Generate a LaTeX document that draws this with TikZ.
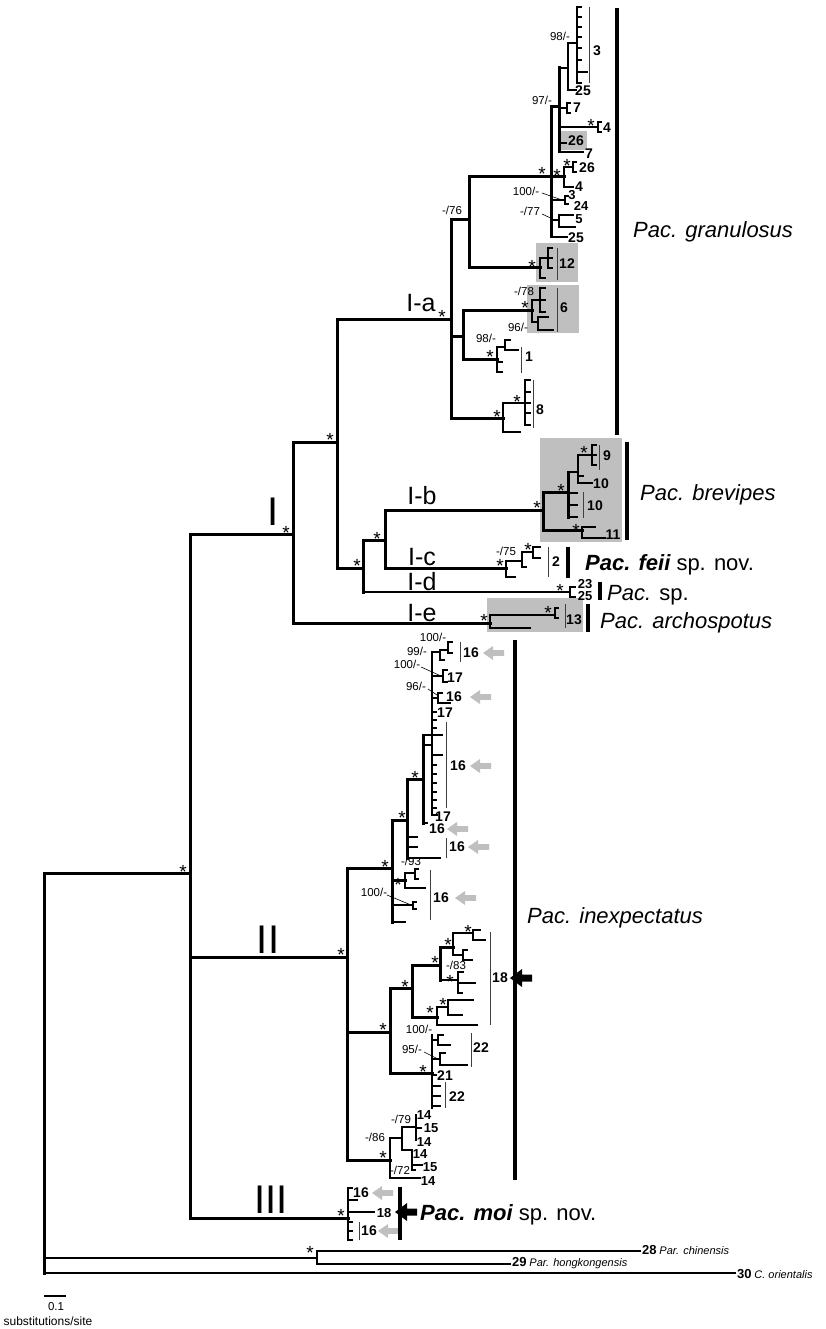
\documentclass[tikz,border=0pt]{standalone}
\usepackage{fontspec}
\setmainfont{Liberation Sans}
\definecolor{boxgray}{RGB}{191,191,191}
\newcounter{nn}
\newcommand\HL[4][]{\draw[br,#1] (#3,#2) -- (#4,#2);}
\newcommand\VL[4][]{\draw[br,#1] (#2,#3) -- (#2,#4);}
\newcommand\St[2]{\stepcounter{nn}\node[stx] (s\thenn) at (#1,#2) {*};}
\newcommand\Lb[3]{\stepcounter{nn}\node[lab] (l\thenn) at (#1,#2) {#3};}
\newcommand\Ls[3]{\stepcounter{nn}\node[lab,font=\fontsize{13}{13}\selectfont\bfseries] (m\thenn) at (#1,#2) {#3};}
\newcommand\Sv[3]{\stepcounter{nn}\node[bs] (v\thenn) at (#1,#2) {#3};}
\newcommand\Tb[3]{\draw[cbar] (#1,#2) -- (#1,#3);}
\newcommand\Sb[3]{\draw[sbar] (#1,#2) -- (#1,#3);}
\newcommand\Ar[3][boxgray]{\fill[#1] (#2,#3) -- ++(10,-7) -- ++(0,4.2) -- ++(11,0) -- ++(0,5.6) -- ++(-11,0) -- ++(0,4.2) -- cycle;}
\newcommand\BA[2]{\fill[black] (#1,#2) -- ++(12,-9) -- ++(0,5.5) -- ++(10,0) -- ++(0,7) -- ++(-10,0) -- ++(0,5.5) -- cycle;}
\newcommand\Tk[3]{\foreach \yy in {#3} {\draw[tw] (#1,\yy) -- (#2,\yy);}}
\begin{document}
\begin{tikzpicture}[x=1pt,y=-1pt,
  br/.style={line width=3pt,line cap=rect},
  tw/.style={line width=2.8pt,line cap=rect},
  th/.style={line width=2.2pt,line cap=rect},
  cbar/.style={line width=0.9pt,black!75},
  sbar/.style={line width=4.2pt},
  lead/.style={line width=0.6pt},
  lab/.style={font=\fontsize{14}{14}\selectfont\bfseries,inner sep=0pt},
  bs/.style={font=\fontsize{11.5}{12}\selectfont,inner sep=0pt},
  stx/.style={font=\fontsize{19}{19}\selectfont,inner sep=0pt,yshift=-4pt},
  cl/.style={font=\fontsize{25}{25}\selectfont,inner sep=0pt},
  big/.style={font=\fontsize{40}{40}\selectfont,inner sep=0pt},
  sp/.style={font=\fontsize{22}{22}\selectfont,inner sep=0pt,anchor=base west},
]
\path[use as bounding box] (0,0) rectangle (825,1329);
\fill[white] (0,0) rectangle (825,1329);
% shaded boxes
\fill[boxgray] (559,131) rectangle (587,150);
\fill[boxgray] (536,243) rectangle (578,282);
\fill[boxgray] (527,285) rectangle (579,333);
\fill[boxgray] (540,438) rectangle (622,542);
\fill[boxgray] (487,598) rectangle (583,632);
% ---------------- root and outgroups
\VL{44}{873}{1273}
\HL{873}{44}{190} \St{183}{868}
\HL[th]{1258}{44}{317} \St{310}{1249}
\VL[th]{317}{1251}{1264}
\HL[th]{1251}{317}{640}
\HL[th]{1264}{317}{510}
\HL[th]{1273}{44}{735}
\node[anchor=west,inner sep=0pt] (o28) at (642,1250) {{\fontsize{13}{13}\selectfont\bfseries 28} {\fontsize{11}{11}\selectfont\itshape Par. chinensis}};
\node[anchor=west,inner sep=0pt] (o29) at (512,1263) {{\fontsize{13}{13}\selectfont\bfseries 29} {\fontsize{11}{11}\selectfont\itshape Par. hongkongensis}};
\node[anchor=west,inner sep=0pt] (o30) at (737,1274) {{\fontsize{13}{13}\selectfont\bfseries 30} {\fontsize{11}{11}\selectfont\itshape C. orientalis}};
% scale bar
\draw[line width=2.2pt] (44,1296) -- (66,1296);
\node[font=\fontsize{11.5}{12}\selectfont,inner sep=0pt] (sb1) at (56,1307) {0.1};
\node[font=\fontsize{12}{12}\selectfont,inner sep=0pt] (sb2) at (48,1321) {substitutions/site};
% ---------------- ingroup backbone
\VL{190}{534}{1218}
\HL{534}{190}{293} \St{286}{529} \node[big] (cI) at (273,512) {I};
\HL{957}{190}{347} \St{341}{951} \node[big] (cII) at (268,940) {II};
\HL{1218}{190}{348} \St{341}{1212} \node[big] (cIII) at (271,1200) {III};
% ---------------- clade I
\VL{293}{442}{623}
\HL{442}{293}{337} \St{330}{436}
\HL{623}{293}{490} \node[cl] (cIe) at (422,613) {I-e}; \St{484}{617}
\VL{337}{319}{568}
\HL{319}{337}{451} \node[cl] (cIa) at (421,303) {I-a}; \St{442}{313}
\HL{568}{337}{363} \St{357}{562}
\VL{363}{540}{592}
\HL{540}{363}{385} \St{377}{535}
\HL[th]{592}{363}{570} \node[cl] (cId) at (422,582) {I-d}; \St{560}{587}
\VL{385}{510}{568}
\HL{510}{385}{543} \node[cl] (cIb) at (422,496) {I-b}; \St{537}{504}
\HL{568}{385}{506} \node[cl] (cIc) at (422,557) {I-c}; \St{500}{562}
% ---------------- I-a granulosus
\VL{451}{220}{418}
\HL{220}{451}{469}
\Sv{452}{210}{-/76}
\VL{469}{177}{268}
\HL{177}{469}{564} \St{542}{170}
\HL{268}{469}{540} \St{532}{263}
\HL{336}{451}{463}
\VL{463}{310}{359}
\HL{310}{463}{532} \St{525}{304}
\HL{359}{463}{497} \St{490}{353}
\HL{418}{451}{503} \St{497}{413}
% top group
\VL{551}{107}{237}
\HL{107}{551}{559} \Sv{542}{100}{97/-}
\VL{559}{68}{152}
\HL[tw]{68}{559}{568}
\VL[tw]{568}{43}{90}
\HL[tw]{43}{568}{577} \Sv{560}{36}{98/-}
\VL[tw]{577}{7}{83}
\Tk{577}{580.5}{7,17,27,37,48,60,83}
\HL[tw]{72}{577}{587}
\HL[tw]{90}{568}{576} \Lb{583}{91}{25}
\Tb{589}{7}{83} \Lb{597}{51}{3}
\HL[tw]{108}{559}{567} \VL[tw]{567}{103}{113} \Tk{567}{570}{103,113} \Lb{577}{108}{7}
\HL[tw]{127}{559}{598} \VL[tw]{598}{122}{132} \Tk{598}{601}{122,132} \St{591}{122} \Lb{607}{128}{4}
\HL[tw]{143}{559}{566} \Lb{576}{141}{26}
\HL[tw]{152}{559}{583} \Lb{589}{154}{7}
\VL[tw]{564}{167}{187} \St{557}{172}
\HL[tw]{167}{564}{573} \VL[tw]{573}{162}{172} \Tk{573}{576}{162,172} \St{567}{162} \Lb{587}{168}{26}
\HL[tw]{187}{564}{573} \Lb{579}{187}{4}
\HL[tw]{200}{551}{565} \VL[tw]{565}{196}{204} \Tk{565}{568}{196,204}
\Ls{572}{195}{3} \Ls{581}{206}{24}
\Sv{526}{191}{100/-} \draw[lead] (542,193) -- (562,200);
\HL[tw]{220}{551}{559} \VL[tw]{559}{215}{227} \HL[tw]{215}{559}{573} \HL[tw]{227}{559}{575}
\Ls{579}{219}{5}
\Sv{530}{211}{-/77} \draw[lead] (542,214) -- (557,221);
\HL[tw]{237}{551}{567} \Lb{576}{238}{25}
\Sb{617}{8}{435}
\node[sp] (pg) at (633,238) {\itshape Pac. granulosus};
% clade 12
\VL[tw]{540}{258}{278}
\HL[tw]{258}{540}{548} \VL[tw]{548}{248}{268} \Tk{548}{552}{248,258,268}
\HL[tw]{278}{540}{545}
\Tb{557}{248}{280} \Lb{567}{264}{12}
% clade 6
\VL[tw]{532}{300}{322}
\HL[tw]{300}{532}{540} \VL[tw]{540}{288}{312} \Tk{540}{545}{288,300,312}
\HL[tw]{322}{532}{538} \VL[tw]{538}{317}{330} \HL[tw]{317}{538}{548} \HL[tw]{330}{538}{553}
\Sv{524}{291}{-/78} \Sv{518}{327}{96/-}
\Tb{557}{288}{332} \Lb{564}{308}{6}
% clade 1
\VL[tw]{497}{347}{372}
\HL[tw]{347}{497}{505} \VL[tw]{505}{340}{350} \HL[tw]{340}{505}{510} \HL[tw]{350}{505}{518}
\Tk{497}{502}{362,372}
\Sv{486}{338}{98/-}
\Tb{521}{347}{373} \Lb{529}{357}{1}
% clade 8
\VL[tw]{503}{403}{432}
\HL[tw]{403}{503}{525} \St{517}{398}
\VL[tw]{525}{380}{425} \Tk{525}{530}{380,392,403,413,425}
\HL[tw]{432}{503}{520}
\Tb{533}{380}{428} \Lb{540}{410}{8}
% ---------------- I-b brevipes
\VL{543}{492}{530}
\HL{492}{543}{568} \St{561}{487}
\VL{568}{472}{517}
\HL[tw]{472}{568}{578}
\VL[tw]{578}{455}{483} \St{584}{449}
\HL[tw]{455}{578}{592} \VL[tw]{592}{445}{465} \Tk{592}{596}{445,455,465}
\Tb{599}{445}{470} \Lb{607}{456}{9}
\HL[tw]{483}{578}{592} \HL[tw]{476}{578}{583}
\Lb{601}{484}{10}
\Tk{568}{577}{493,505,517}
\Tb{583}{492}{518} \Lb{595}{506}{10}
\HL{530}{543}{582} \St{576}{527}
\VL[tw]{582}{527}{538} \HL[tw]{527}{582}{595} \HL[tw]{538}{582}{605}
\Lb{613}{535}{11}
\Sb{627}{442}{540}
\node[sp] (pb) at (640,500) {\itshape Pac. brevipes};
% ---------------- I-c feii
\VL[tw]{506}{561}{577}
\HL[tw]{561}{506}{522}
\VL[tw]{522}{552}{567} \St{528}{546}
\HL[tw]{552}{522}{533} \VL[tw]{533}{547}{558} \Tk{533}{540}{547,558}
\HL[tw]{567}{522}{526}
\HL[tw]{577}{506}{515}
\Sv{506}{551}{-/75}
\Tb{548}{547}{577} \Lb{556}{562}{2}
\Sb{568}{547}{578}
\node[sp] (pf) at (585,570) {{\bfseries\itshape Pac. feii} sp. nov.};
% ---------------- I-d
\VL[tw]{570}{587}{597} \Tk{570}{575}{587,597}
\Ls{585}{584}{23}
\Ls{585}{596}{25}
\Sb{600}{582}{600}
\node[sp] (ps) at (607,600) {{\itshape Pac.} sp.};
% ---------------- I-e archospotus
\VL[tw]{490}{615}{628}
\HL[tw]{615}{490}{555} \St{548}{609}
\VL[tw]{555}{608}{618} \Tk{555}{558}{608,618}
\HL[tw]{628}{490}{530}
\Tb{565}{604}{628} \Lb{574}{620}{13}
\Sb{588}{604}{632}
\node[sp] (pa) at (600,628) {\itshape Pac. archospotus};
% ---------------- clade II
\VL{347}{868}{1160}
\HL{868}{347}{392} \St{385}{863}
\VL{392}{820}{922}
\Sv{411}{861}{-/93}
\HL{820}{392}{407} \St{402}{814}
\VL{407}{779}{858}
\HL{779}{407}{423} \St{415}{774}
\VL{423}{735}{823}
\HL[tw]{735}{423}{442}
\HL[tw]{745}{423}{432}
\HL[tw]{823}{423}{427} \Lb{437}{829}{16} \Ar{447}{829}
\VL[tw]{432}{652}{815}
\Tk{432}{436}{712,720,728,765,774,783,792,800,808}
\HL[tw]{755}{432}{442}
\HL[tw]{815}{432}{437} \Lb{443}{817}{17}
\Lb{445}{713}{17}
\Tb{446}{722}{808} \Lb{458}{766}{16} \Ar{470}{766}
\HL[tw]{652}{432}{440} \VL[tw]{440}{650}{660} \HL[tw]{650}{440}{448} \VL[tw]{448}{642}{653} \Tk{448}{452}{642,653} \HL[tw]{660}{440}{444}
\Sv{433}{637}{100/-} \Sv{417}{651}{99/-}
\Tb{460}{642}{662} \Lb{471}{653}{16} \Ar{483}{653}
\HL[tw]{676}{432}{443} \VL[tw]{443}{670}{682} \Tk{443}{447}{670,682}
\Lb{455}{678}{17} \Sv{407}{664}{100/-} \draw[lead] (421,667) -- (441,676);
\HL[tw]{698}{432}{438} \VL[tw]{438}{693}{703} \HL[tw]{693}{438}{442} \HL[tw]{703}{438}{450}
\Lb{454}{697}{16} \Ar{470}{697}
\Sv{416}{686}{96/-} \draw[lead] (428,689) -- (437,695);
\Tk{407}{417}{837,847}
\HL[tw]{858}{407}{440}
\Tb{446}{838}{858} \Lb{457}{847}{16} \Ar{468}{847}
\HL{880}{392}{405} \St{398}{881}
\VL[tw]{405}{873}{888}
\HL[tw]{873}{405}{415} \VL[tw]{415}{869}{879} \Tk{415}{418}{869,879}
\HL[tw]{888}{405}{425}
\HL[tw]{905}{392}{413} \VL[tw]{413}{902}{909} \Tk{413}{416}{902,909}
\Sv{374}{892}{100/-} \draw[lead] (387,895) -- (411,905);
\HL[tw]{922}{392}{405}
\Tb{430}{870}{920} \Lb{441}{898}{16} \Ar{455}{898}
% clade 18
\HL{1032}{347}{390} \St{383}{1026}
\VL{390}{988}{1073}
\HL{988}{390}{412} \St{405}{983}
\VL{412}{965}{1017}
\HL{965}{412}{440} \St{435}{959}
\VL{440}{947}{980}
\HL{947}{440}{453} \St{448}{941}
\VL[tw]{453}{933}{955}
\HL[tw]{933}{453}{473} \St{468}{928}
\VL[tw]{473}{930}{940} \HL[tw]{930}{473}{480} \HL[tw]{940}{473}{485}
\HL[tw]{955}{453}{463} \VL[tw]{463}{950}{960} \HL[tw]{950}{463}{467} \HL[tw]{960}{463}{472}
\Sv{456}{965}{-/83}
\HL[tw]{980}{440}{458} \St{450}{978}
\VL[tw]{458}{972}{993} \HL[tw]{972}{458}{463} \HL[tw]{983}{458}{475} \HL[tw]{993}{458}{462}
\HL{1017}{412}{437} \St{430}{1009}
\VL[tw]{437}{1007}{1025}
\HL[tw]{1007}{437}{448} \St{443}{1001}
\VL[tw]{448}{1000}{1015} \HL[tw]{1000}{448}{473} \HL[tw]{1015}{448}{462}
\HL[tw]{1025}{437}{477}
\Tb{490}{932}{1025} \Lb{500}{978}{18}
\Sb{515}{640}{1180}
\BA{510}{978}
\node[sp] (pi) at (527,923) {\itshape Pac. inexpectatus};
% 21/22
\HL{1073}{390}{432} \St{423}{1068}
\VL[tw]{432}{1035}{1108}
\HL[tw]{1040}{432}{438} \VL[tw]{438}{1035}{1045} \HL[tw]{1035}{438}{443} \HL[tw]{1045}{438}{450}
\Sv{419}{1029}{100/-}
\HL[tw]{1059}{432}{440} \VL[tw]{440}{1053}{1065} \HL[tw]{1053}{440}{445} \HL[tw]{1065}{440}{467}
\Sv{412}{1049}{95/-} \draw[lead] (424,1052) -- (440,1060);
\Tb{471}{1033}{1067} \Lb{481}{1048}{22}
\HL[tw]{1075}{432}{436} \Lb{445}{1076}{21}
\Tk{432}{440}{1086,1096,1106}
\Tb{445}{1082}{1108} \Lb{457}{1097}{22}
% 14/15
\HL{1160}{347}{390} \St{383}{1154}
\VL[tw]{390}{1138}{1178}
\HL[tw]{1178}{390}{420} \Ls{428}{1181}{14}
\HL[tw]{1138}{390}{402}
\VL[tw]{402}{1127}{1150}
\HL[tw]{1127}{402}{416}
\VL[tw]{416}{1115}{1140}
\HL[tw]{1128}{416}{421}
\Ls{424}{1115}{14} \Ls{431}{1128.5}{15} \Ls{424}{1142}{14}
\HL[tw]{1150}{402}{412}
\VL[tw]{412}{1150}{1168}
\Ls{420}{1154}{14}
\HL[tw]{1165}{412}{422} \Ls{430}{1167}{15}
\HL[tw]{1170}{412}{415}
\Sv{401}{1119}{-/79}
\Sv{375}{1137}{-/86}
\Sv{400}{1170}{-/72}
% ---------------- clade III
\VL[tw]{348}{1188}{1240}
\Tk{348}{352}{1188}
\HL[tw]{1200}{348}{357}
\Lb{361}{1193}{16} \Ar{372}{1193}
\HL[tw]{1212}{348}{374} \Ls{384}{1213}{18}
\Tk{348}{352}{1222,1231,1240}
\Tb{359}{1222}{1240} \Lb{369}{1231}{16} \Ar{378}{1231}
\Sb{400}{1187}{1240}
\BA{395}{1212}
\node[sp] (pm) at (420,1220) {{\bfseries\itshape Pac. moi} sp. nov.};
\end{tikzpicture}
\end{document}
